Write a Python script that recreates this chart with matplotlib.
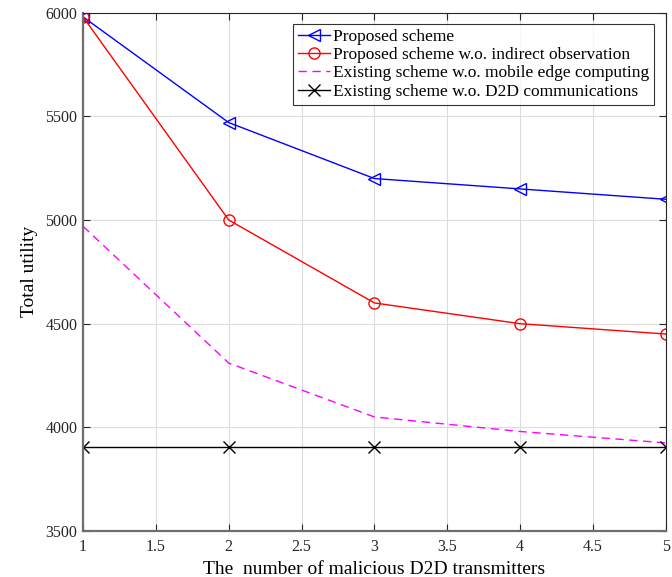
import matplotlib
matplotlib.use("Agg")
import matplotlib.pyplot as plt

# ── Data ─────────────────────────────────────────────────────────────────
X_VALUES = [1, 2, 3, 4, 5]
PROPOSED = [5980, 5470, 5200, 5150, 5100]
NO_INDIRECT = [5980, 5000, 4600, 4500, 4450]
NO_MEC = [4970, 4310, 4050, 3980, 3925]
NO_D2D = [3905, 3905, 3905, 3905, 3905]

LABELS = [
    "Proposed scheme",
    "Proposed scheme w.o. indirect observation",
    "Existing scheme w.o. mobile edge computing",
    "Existing scheme w.o. D2D communications",
]
X_TICKS = [1, 1.5, 2, 2.5, 3, 3.5, 4, 4.5, 5]
Y_TICKS = [3500, 4000, 4500, 5000, 5500, 6000]

plt.rcParams["font.family"] = ["Liberation Serif", "DejaVu Serif"]
plt.rcParams["mathtext.fontset"] = "stix"

fig = plt.figure(figsize=(6.72, 5.77), dpi=100)
ax = fig.add_axes([0.1235, 0.0797, 0.8675, 0.8983])

ax.plot(X_VALUES, PROPOSED, color="blue", marker="<", markersize=9,
        markerfacecolor="none", linewidth=1, label=LABELS[0])
ax.plot(X_VALUES, NO_INDIRECT, color="red", marker="o", markersize=8,
        markerfacecolor="none", linewidth=1, label=LABELS[1])
ax.plot(X_VALUES, NO_MEC, color="magenta", linestyle=(0, (6, 4)),
        linewidth=1, label=LABELS[2])
ax.plot(X_VALUES, NO_D2D, color="black", marker="x", markersize=8,
        linewidth=1, label=LABELS[3])

ax.set_xlim(1, 5)
ax.set_ylim(3500, 6000)
ax.set_xticks(X_TICKS)
ax.set_xticklabels([f"{t:g}" for t in X_TICKS])
ax.set_yticks(Y_TICKS)

ax.grid(True, color="#dcdcdc", linewidth=0.8)
ax.set_axisbelow(True)
ax.tick_params(direction="in", top=True, right=True, length=5, pad=6,
               labelsize=11.5, colors="#262626", labelcolor="#262626")
ax.tick_params(axis="y", pad=4)
for side in ["left", "bottom"]:
    ax.spines[side].set_color("#6e6e6e")
    ax.spines[side].set_linewidth(1.6)
for side in ["top", "right"]:
    ax.spines[side].set_color("#262626")
    ax.spines[side].set_linewidth(0.8)

ax.set_xlabel("The  number of malicious D2D transmitters", fontsize=14,
              labelpad=4)
ax.set_ylabel("Total utility", fontsize=14, labelpad=5)

leg = ax.legend(loc="upper right", bbox_to_anchor=(0.98, 0.979), fontsize=12.5,
                frameon=True, fancybox=False, edgecolor="black",
                borderpad=0.3, labelspacing=0.12, handlelength=1.85,
                handletextpad=0.15, borderaxespad=0)
leg.get_frame().set_linewidth(0.8)

fig.savefig("out.png", dpi=100)
